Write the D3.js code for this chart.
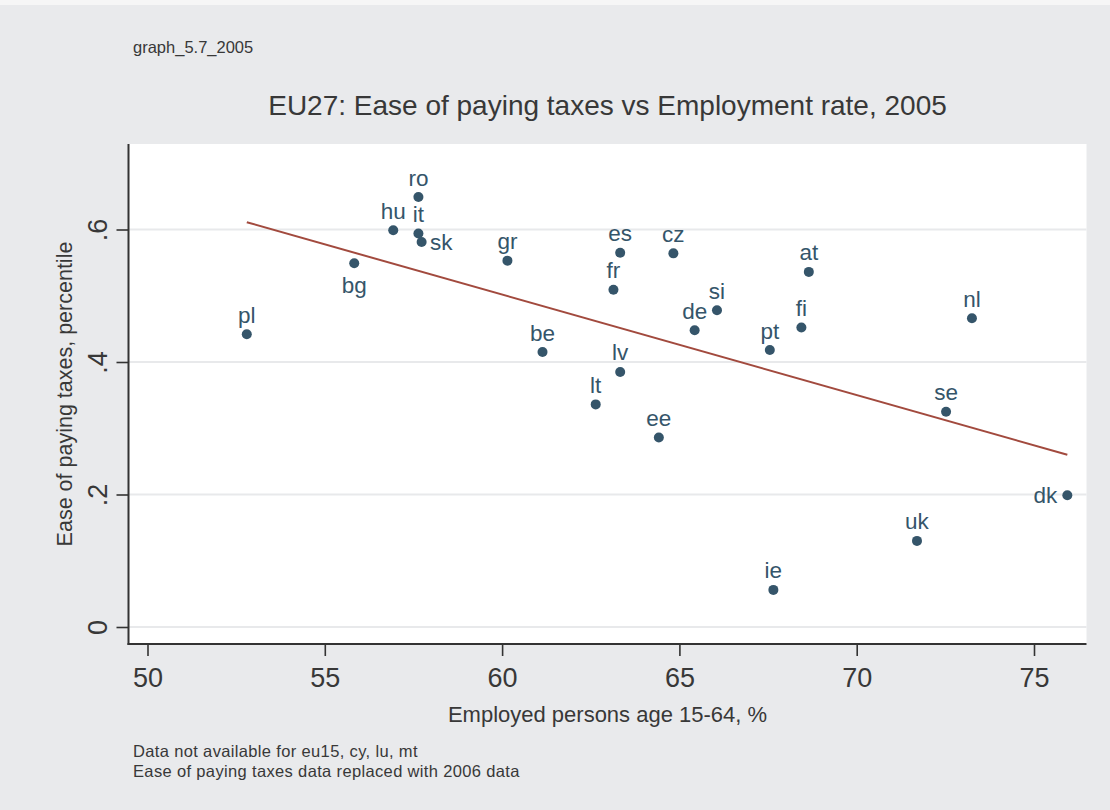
<!DOCTYPE html>
<html>
<head>
<meta charset="utf-8">
<script src="https://cdn.jsdelivr.net/npm/d3@7"></script>
<style>
  html, body { margin: 0; padding: 0; background: #ffffff; }
  svg { display: block; }
  text { font-family: "Liberation Sans", Arial, Helvetica, sans-serif; }
</style>
</head>
<body>
<svg id="chart" width="1110" height="810"></svg>
<script>
// ---- data ----
const countries = ["pl","bg","hu","ro","it","sk","gr","be","lt","fr","es","lv","ee","cz","de","si","pt","ie","fi","at","uk","se","nl","dk"];
const employment = [52.8,55.83,56.93,57.64,57.64,57.73,60.15,61.14,62.64,63.14,63.33,63.33,64.42,64.83,65.43,66.06,67.55,67.65,68.44,68.65,71.70,72.52,73.25,75.94];
const easeTaxes  = [0.442,0.549,0.599,0.649,0.594,0.581,0.553,0.415,0.336,0.509,0.565,0.385,0.286,0.564,0.448,0.478,0.418,0.056,0.452,0.536,0.130,0.325,0.466,0.199];
const fitX = [52.8, 75.94];
const fitY = [0.611, 0.260];
const xTicks = [50, 55, 60, 65, 70, 75];
const yTicks = [0, 0.2, 0.4, 0.6];
const yTickLabels = ["0", ".2", ".4", ".6"];

// ---- layout / style ----
const labelPlacement = { sk: "right", bg: "bottom", dk: "left" };
const W = 1110, H = 810;
const plot = { left: 128.5, right: 1086.5, top: 144, bottom: 644 };
const dotColor = "#35556a";
const lineColor = "#a24a3e";
const textColor = "#383838";

const svg = d3.select("#chart");

svg.append("rect").attr("x", 0).attr("y", 0).attr("width", W).attr("height", H).attr("fill", "#f6f6f6");
svg.append("rect").attr("x", 0).attr("y", 5).attr("width", W).attr("height", H - 5).attr("fill", "#e9eaec");
svg.append("rect").attr("x", plot.left).attr("y", plot.top)
  .attr("width", plot.right - plot.left).attr("height", plot.bottom - plot.top).attr("fill", "#ffffff");

const x = d3.scaleLinear().domain([50, 75]).range([147.5, 1034]);
const y = d3.scaleLinear().domain([0, 0.6]).range([627, 229.5]);

// gridlines
svg.append("g").selectAll("line").data(yTicks).join("line")
  .attr("x1", plot.left).attr("x2", plot.right)
  .attr("y1", d => y(d)).attr("y2", d => y(d))
  .attr("stroke", "#e8e9eb").attr("stroke-width", 2);

// y axis
const yAxis = d3.axisLeft(y).tickValues(yTicks).tickSize(12).tickPadding(0)
  .tickFormat((d, i) => yTickLabels[i]);
const gy = svg.append("g").attr("transform", `translate(${plot.left},0)`).call(yAxis);
gy.select(".domain").remove();
gy.selectAll(".tick line").attr("stroke", "#333").attr("stroke-width", 1.6);
gy.selectAll(".tick text")
  .attr("fill", textColor).attr("font-size", 27)
  .attr("x", null).attr("dy", null)
  .attr("text-anchor", "middle")
  .attr("transform", "translate(-22,0) rotate(-90)");

// x axis
const xAxis = d3.axisBottom(x).tickValues(xTicks).tickSize(12).tickPadding(0);
const gx = svg.append("g").attr("transform", `translate(0,${plot.bottom})`).call(xAxis);
gx.select(".domain").remove();
gx.selectAll(".tick line").attr("stroke", "#333").attr("stroke-width", 1.6);
gx.selectAll(".tick text")
  .attr("fill", textColor).attr("font-size", 27)
  .attr("dy", null).attr("y", 42.5);

// axis lines
svg.append("line").attr("x1", plot.left).attr("x2", plot.left)
  .attr("y1", plot.top).attr("y2", plot.bottom + 1)
  .attr("stroke", "#333").attr("stroke-width", 2);
svg.append("line").attr("x1", plot.left - 1).attr("x2", plot.right)
  .attr("y1", plot.bottom).attr("y2", plot.bottom)
  .attr("stroke", "#333").attr("stroke-width", 2);

// fit line
const fitData = fitX.map((v, i) => [v, fitY[i]]);
svg.append("path").datum(fitData)
  .attr("d", d3.line().x(d => x(d[0])).y(d => y(d[1])))
  .attr("fill", "none").attr("stroke", lineColor).attr("stroke-width", 2);

// points
const pts = countries.map((c, i) => ({ c, ex: employment[i], ey: easeTaxes[i] }));
svg.append("g").selectAll("circle").data(pts).join("circle")
  .attr("cx", d => x(d.ex)).attr("cy", d => y(d.ey)).attr("r", 5)
  .attr("fill", dotColor);

// labels
svg.append("g").selectAll("text").data(pts).join("text")
  .attr("fill", dotColor).attr("font-size", 22.5)
  .each(function (d) {
    const t = d3.select(this);
    const px = x(d.ex), py = y(d.ey);
    const pos = labelPlacement[d.c] || "top";
    if (pos === "top") {
      t.attr("x", px).attr("y", py - 11.5).attr("text-anchor", "middle");
    } else if (pos === "right") {
      t.attr("x", px + 8.5).attr("y", py + 8).attr("text-anchor", "start");
    } else if (pos === "left") {
      t.attr("x", px - 10).attr("y", py + 8).attr("text-anchor", "end");
    } else {
      t.attr("x", px).attr("y", py + 29.5).attr("text-anchor", "middle");
    }
  })
  .text(d => d.c);

// titles
svg.append("text").attr("x", 133).attr("y", 53).attr("font-size", 16.5)
  .attr("fill", textColor).text("graph_5.7_2005");
svg.append("text").attr("x", (plot.left + plot.right) / 2).attr("y", 115)
  .attr("text-anchor", "middle").attr("font-size", 28)
  .attr("fill", textColor).text("EU27: Ease of paying taxes vs Employment rate, 2005");
svg.append("text").attr("x", (plot.left + plot.right) / 2).attr("y", 722)
  .attr("text-anchor", "middle").attr("font-size", 22)
  .attr("fill", textColor).text("Employed persons age 15-64, %");
svg.append("text")
  .attr("transform", `translate(72,${(plot.top + plot.bottom) / 2}) rotate(-90)`)
  .attr("text-anchor", "middle").attr("font-size", 21.5)
  .attr("fill", textColor).text("Ease of paying taxes, percentile");

// notes
const notes = ["Data not available for eu15, cy, lu, mt", "Ease of paying taxes data replaced with 2006 data"];
svg.append("g").selectAll("text").data(notes).join("text")
  .attr("x", 133).attr("y", (d, i) => 757 + i * 19.5)
  .attr("font-size", 16.5).attr("letter-spacing", 0.35).attr("fill", textColor)
  .text(d => d);
</script>
</body>
</html>
